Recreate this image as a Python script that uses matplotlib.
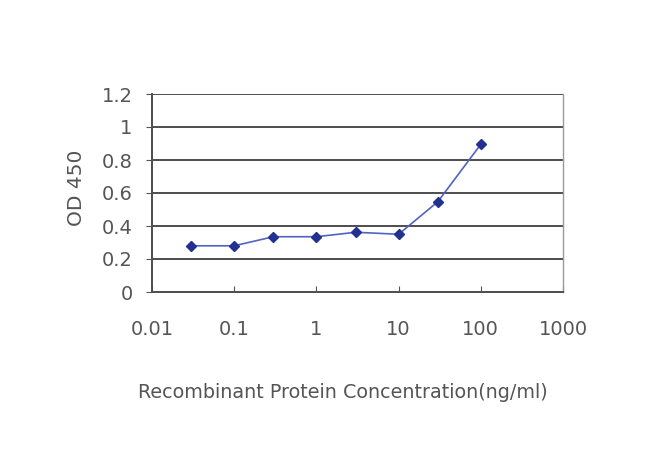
import matplotlib
matplotlib.use("Agg")
import matplotlib.pyplot as plt

conc = [0.03, 0.1, 0.3, 1, 3, 10, 30, 100]
od = [0.28, 0.28, 0.335, 0.335, 0.362, 0.35, 0.547, 0.895]
xticks = [0.01, 0.1, 1, 10, 100, 1000]
xticklabels = ["0.01", "0.1", "1", "10", "100", "1000"]
yticks = [0, 0.2, 0.4, 0.6, 0.8, 1, 1.2]
yticklabels = ["0", "0.2", "0.4", "0.6", "0.8", "1", "1.2"]

plt.rcParams['font.family'] = ['DejaVu Sans']
fig = plt.figure(figsize=(6.5, 4.66), dpi=100)
ax = fig.add_axes([152/650, 1-292/466, (563-152)/650, (292-94)/466])
ax.set_xscale('log')
ax.set_xlim(0.01, 1000)
ax.set_ylim(0, 1.2)
for y in yticks[1:]:
    ax.axhline(y, color='#4d4d4d', lw=1.4, zorder=1)
ax.plot(conc, od, color='#5262c4', lw=1.2, marker='D', markersize=5.5,
        markerfacecolor='#22308f', markeredgecolor='#22308f', zorder=3)
ax.set_xticks(xticks)
ax.set_xticklabels(xticklabels)
ax.minorticks_off()
ax.set_yticks(yticks)
ax.set_yticklabels(yticklabels)
ax.tick_params(axis='x', direction='in', length=4, color='#555555', labelsize=14, labelcolor='#555555', pad=20)
ax.tick_params(axis='y', direction='out', length=4, color='#555555', labelsize=14, labelcolor='#555555', pad=10)
for s in ['left', 'bottom']:
    ax.spines[s].set_color('#4d4d4d')
    ax.spines[s].set_linewidth(1.4)
ax.spines['right'].set_color('#999999')
ax.spines['right'].set_linewidth(1.0)
ax.spines['top'].set_visible(False)
ax.set_xlabel('Recombinant Protein Concentration(ng/ml)', fontsize=13.8, color='#555555')
ax.set_ylabel('OD 450', fontsize=14.5, color='#555555')
ax.xaxis.set_label_coords(0.465, -0.46)
ax.yaxis.set_label_coords(-0.161, 0.525)
fig.savefig('out.png', dpi=100, facecolor='white')
